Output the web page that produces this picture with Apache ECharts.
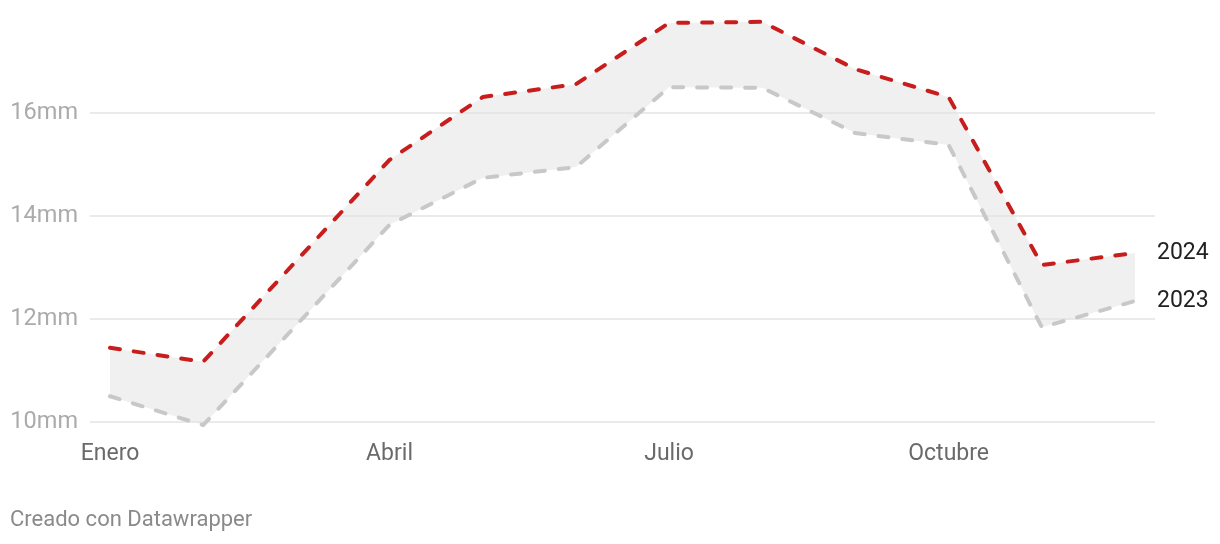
<!DOCTYPE html>
<html><head><meta charset="utf-8">
<script src="https://cdn.jsdelivr.net/npm/echarts@6/dist/echarts.min.js"></script>
<style>html,body{margin:0;padding:0;background:#fff}#c{width:1220px;height:544px}</style>
</head><body><div id="c"></div>
<script>
const months = ['Enero','Febrero','Marzo','Abril','Mayo','Junio','Julio','Agosto','Septiembre','Octubre','Noviembre','Diciembre'];
const v2024 = [11.44, 11.17, 13.13, 15.09, 16.31, 16.56, 17.75, 17.77, 16.85, 16.31, 13.05, 13.28];
const v2023 = [10.50, 9.94, 11.88, 13.83, 14.74, 14.95, 16.50, 16.49, 15.61, 15.38, 11.84, 12.35];
const yTicks = [10, 12, 14, 16];
const footer = 'Creado con Datawrapper';

const band = v2024.map((v, i) => +(v - v2023[i]).toFixed(3));
const FONT = 'Roboto, sans-serif';
const chart = echarts.init(document.getElementById('c'), null, {renderer: 'canvas'});
chart.setOption({
  animation: false,
  backgroundColor: '#ffffff',
  textStyle: {fontFamily: FONT},
  grid: [
    {left: 110, right: 85, top: 10, bottom: 122},
    {left: 90, right: 65, top: 10, bottom: 122}
  ],
  xAxis: [
    {type: 'category', gridIndex: 0, data: months, boundaryGap: false,
     axisLine: {show: false}, axisTick: {show: false}, splitLine: {show: false},
     axisLabel: {interval: 2, color: '#6a6a6a', fontSize: 23, margin: 21, fontFamily: FONT}},
    {type: 'value', gridIndex: 1, min: 0, max: 1, show: false}
  ],
  yAxis: [
    {type: 'value', gridIndex: 0, min: 10, max: 18, show: false},
    {type: 'value', gridIndex: 1, min: 10, max: 18, interval: 2, z: 3,
     axisLine: {show: false}, axisTick: {show: false},
     axisLabel: {showMaxLabel: false, color: '#ababab', fontSize: 23.5, margin: 12, fontFamily: FONT,
       formatter: v => yTicks.includes(v) ? v + 'mm' : ''},
     splitLine: {show: true, showMaxLine: false, lineStyle: {color: '#e3e3e3', width: 1.5}}}
  ],
  graphic: [
    {type: 'text', left: 10, top: 509, style: {text: footer, fill: '#8a8a8a', fontSize: 22, fontFamily: FONT}}
  ],
  series: [
    {type: 'line', xAxisIndex: 0, yAxisIndex: 0, data: v2023, stack: 'band', symbol: 'none',
     lineStyle: {opacity: 0}, clip: false, z: 1, silent: true},
    {type: 'line', xAxisIndex: 0, yAxisIndex: 0, data: band, stack: 'band', symbol: 'none',
     lineStyle: {opacity: 0}, areaStyle: {color: '#f0f0f0', opacity: 1}, clip: false, z: 1, silent: true},
    {type: 'line', name: '2023', xAxisIndex: 0, yAxisIndex: 0, data: v2023, symbol: 'none', clip: false, z: 5,
     lineStyle: {color: '#c8c8c8', width: 4, type: [10, 14], cap: 'round', join: 'round'},
     endLabel: {show: true, formatter: '2023', distance: 22, fontSize: 23, color: '#222', fontFamily: FONT}},
    {type: 'line', name: '2024', xAxisIndex: 0, yAxisIndex: 0, data: v2024, symbol: 'none', clip: false, z: 6,
     lineStyle: {color: '#c71e1d', width: 4, type: [10, 14], cap: 'round', join: 'round'},
     endLabel: {show: true, formatter: '2024', distance: 22, fontSize: 23, color: '#222', fontFamily: FONT}}
  ]
});
</script>
</body></html>
